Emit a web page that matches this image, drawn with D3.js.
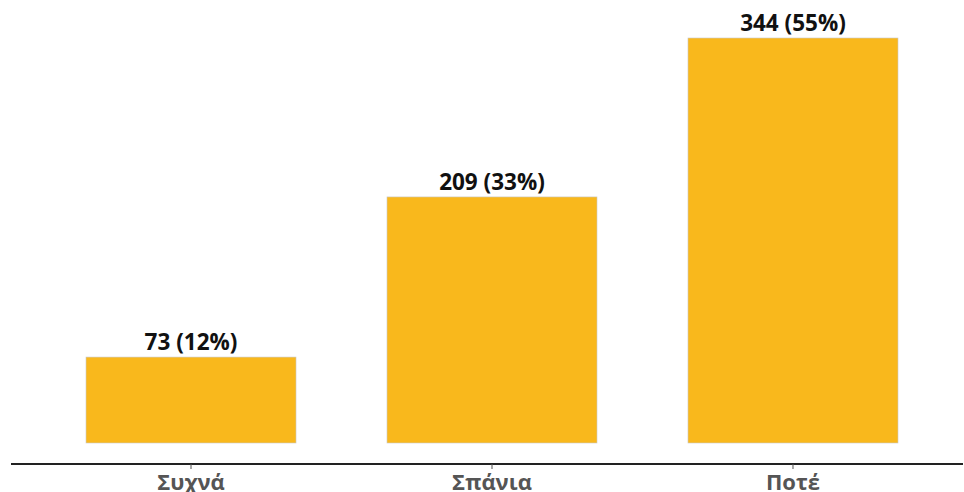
<!DOCTYPE html>
<html><head><meta charset="utf-8">
<script src="https://cdn.jsdelivr.net/npm/d3@7"></script>
<style>body{margin:0;background:#fff}svg{display:block}text{font-family:"Open Sans","Noto Sans",sans-serif;font-weight:700}</style>
</head><body><svg id="c" width="964" height="492"></svg>
<script>
const categories = ["Συχνά", "Σπάνια", "Ποτέ"];
const values = [73, 209, 344];
const percents = [12, 33, 55];

const svg = d3.select("#c");
const x = d3.scaleBand().domain(categories).range([40.5, 943.5]).paddingInner(0.3023).paddingOuter(0.1512);
const y = d3.scaleLinear().domain([0, 344]).range([443, 38]);

svg.selectAll("rect.bar").data(categories).join("rect")
  .attr("class","bar")
  .attr("x", d => x(d)).attr("width", x.bandwidth())
  .attr("y", (d,i) => y(values[i])).attr("height", (d,i) => y(0) - y(values[i]))
  .attr("fill", "#F9B81C").attr("stroke", "#c8c8c8").attr("stroke-width", 0.6);

svg.selectAll("text.val").data(categories).join("text")
  .attr("class","val")
  .attr("x", d => x(d) + x.bandwidth()/2)
  .attr("y", (d,i) => y(values[i]) - 7)
  .attr("text-anchor","middle").attr("font-size", 22.5).attr("fill","#111")
  .text((d,i) => `${values[i]} (${percents[i]}%)`);

const axis = svg.append("g").attr("transform","translate(0,464)")
  .call(d3.axisBottom(x).tickSize(5).tickSizeOuter(0));
axis.select(".domain").attr("d","M11,0H963").attr("stroke","#222").attr("stroke-width",2);
axis.selectAll(".tick line").attr("stroke","#555");
axis.selectAll(".tick text").attr("font-size",22).attr("fill","#555").attr("y",26).attr("dy","0")
  .attr("font-family",'"Open Sans","Noto Sans",sans-serif').attr("font-weight",700);
</script></body></html>
